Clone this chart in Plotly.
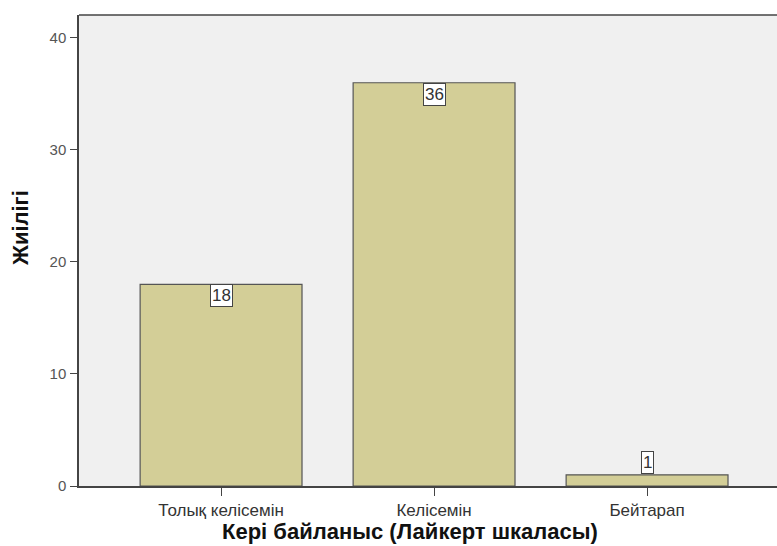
import plotly.graph_objects as go

# Frequency of responses on the Likert scale
categories = ["Толық келісемін", "Келісемін", "Бейтарап"]
counts = [18, 36, 1]
y_ticks = [0, 10, 20, 30, 40]

BAR_FILL = "#d3ce97"
BAR_EDGE = "#555555"
PLOT_BG = "#f0f0f0"
AXIS_COL = "#444444"
FONT = "Liberation Sans, Arial, sans-serif"
NARROW = "Liberation Sans Narrow, Arial Narrow, " + FONT

fig = go.Figure()
fig.add_trace(go.Bar(
    x=list(range(len(categories))),
    y=counts,
    width=0.76,
    marker=dict(color=BAR_FILL, line=dict(color=BAR_EDGE, width=1.2)),
    hoverinfo="skip",
))

# Boxed count labels: inside the bar top when it is tall, above it when short
for i, v in enumerate(counts):
    inside = v >= 5
    fig.add_annotation(
        x=i, y=v, xref="x", yref="y",
        text=str(v), showarrow=False,
        yanchor="top" if inside else "bottom",
        font=dict(family=NARROW, size=17, color="#333333"),
        bgcolor="white", bordercolor="#444444", borderwidth=1, borderpad=1,
        yshift=0 if inside else 1,
    )

# Axis titles
fig.add_annotation(
    text="<b>Кері байланыс (Лайкерт шкаласы)</b>", showarrow=False,
    xref="paper", yref="paper", x=(410 - 79) / (777 - 79), y=-(531 - 486) / 471,
    xanchor="center", yanchor="middle",
    font=dict(family=FONT, size=22, color="#111111"),
)
fig.add_annotation(
    text="<b>Жиілігі</b>", showarrow=False, textangle=-90,
    xref="paper", yref="paper", x=-(79 - 20) / (777 - 79), y=(486 - 228) / 471,
    xanchor="center", yanchor="middle",
    font=dict(family=FONT, size=22, color="#111111"),
)

# Top frame line of the plot area
fig.add_shape(type="line", xref="paper", yref="paper", x0=0, x1=1, y0=1, y1=1,
              line=dict(color=AXIS_COL, width=1.5))

fig.update_xaxes(
    range=[-0.667, 2.61],
    tickmode="array", tickvals=list(range(len(categories))), ticktext=categories,
    ticks="outside", ticklen=8, tickwidth=1.2, tickcolor=AXIS_COL,
    showline=True, linecolor=AXIS_COL, linewidth=1.5,
    showgrid=False, zeroline=False,
    tickfont=dict(family=FONT, size=17, color="#333333"),
    ticklabelstandoff=0,
)
fig.update_yaxes(
    range=[0, 42.05],
    tickmode="array", tickvals=y_ticks,
    ticks="outside", ticklen=7, tickwidth=1.2, tickcolor=AXIS_COL,
    showline=True, linecolor=AXIS_COL, linewidth=1.5,
    showgrid=False, zeroline=False,
    tickfont=dict(family=NARROW, size=15, color="#555555"),
    ticklabelstandoff=1,
)
fig.update_layout(
    width=777, height=546,
    margin=dict(l=79, r=0, t=15, b=60),
    plot_bgcolor=PLOT_BG, paper_bgcolor="white",
    showlegend=False,
    font=dict(family=FONT),
)

fig.write_html("out.html")
